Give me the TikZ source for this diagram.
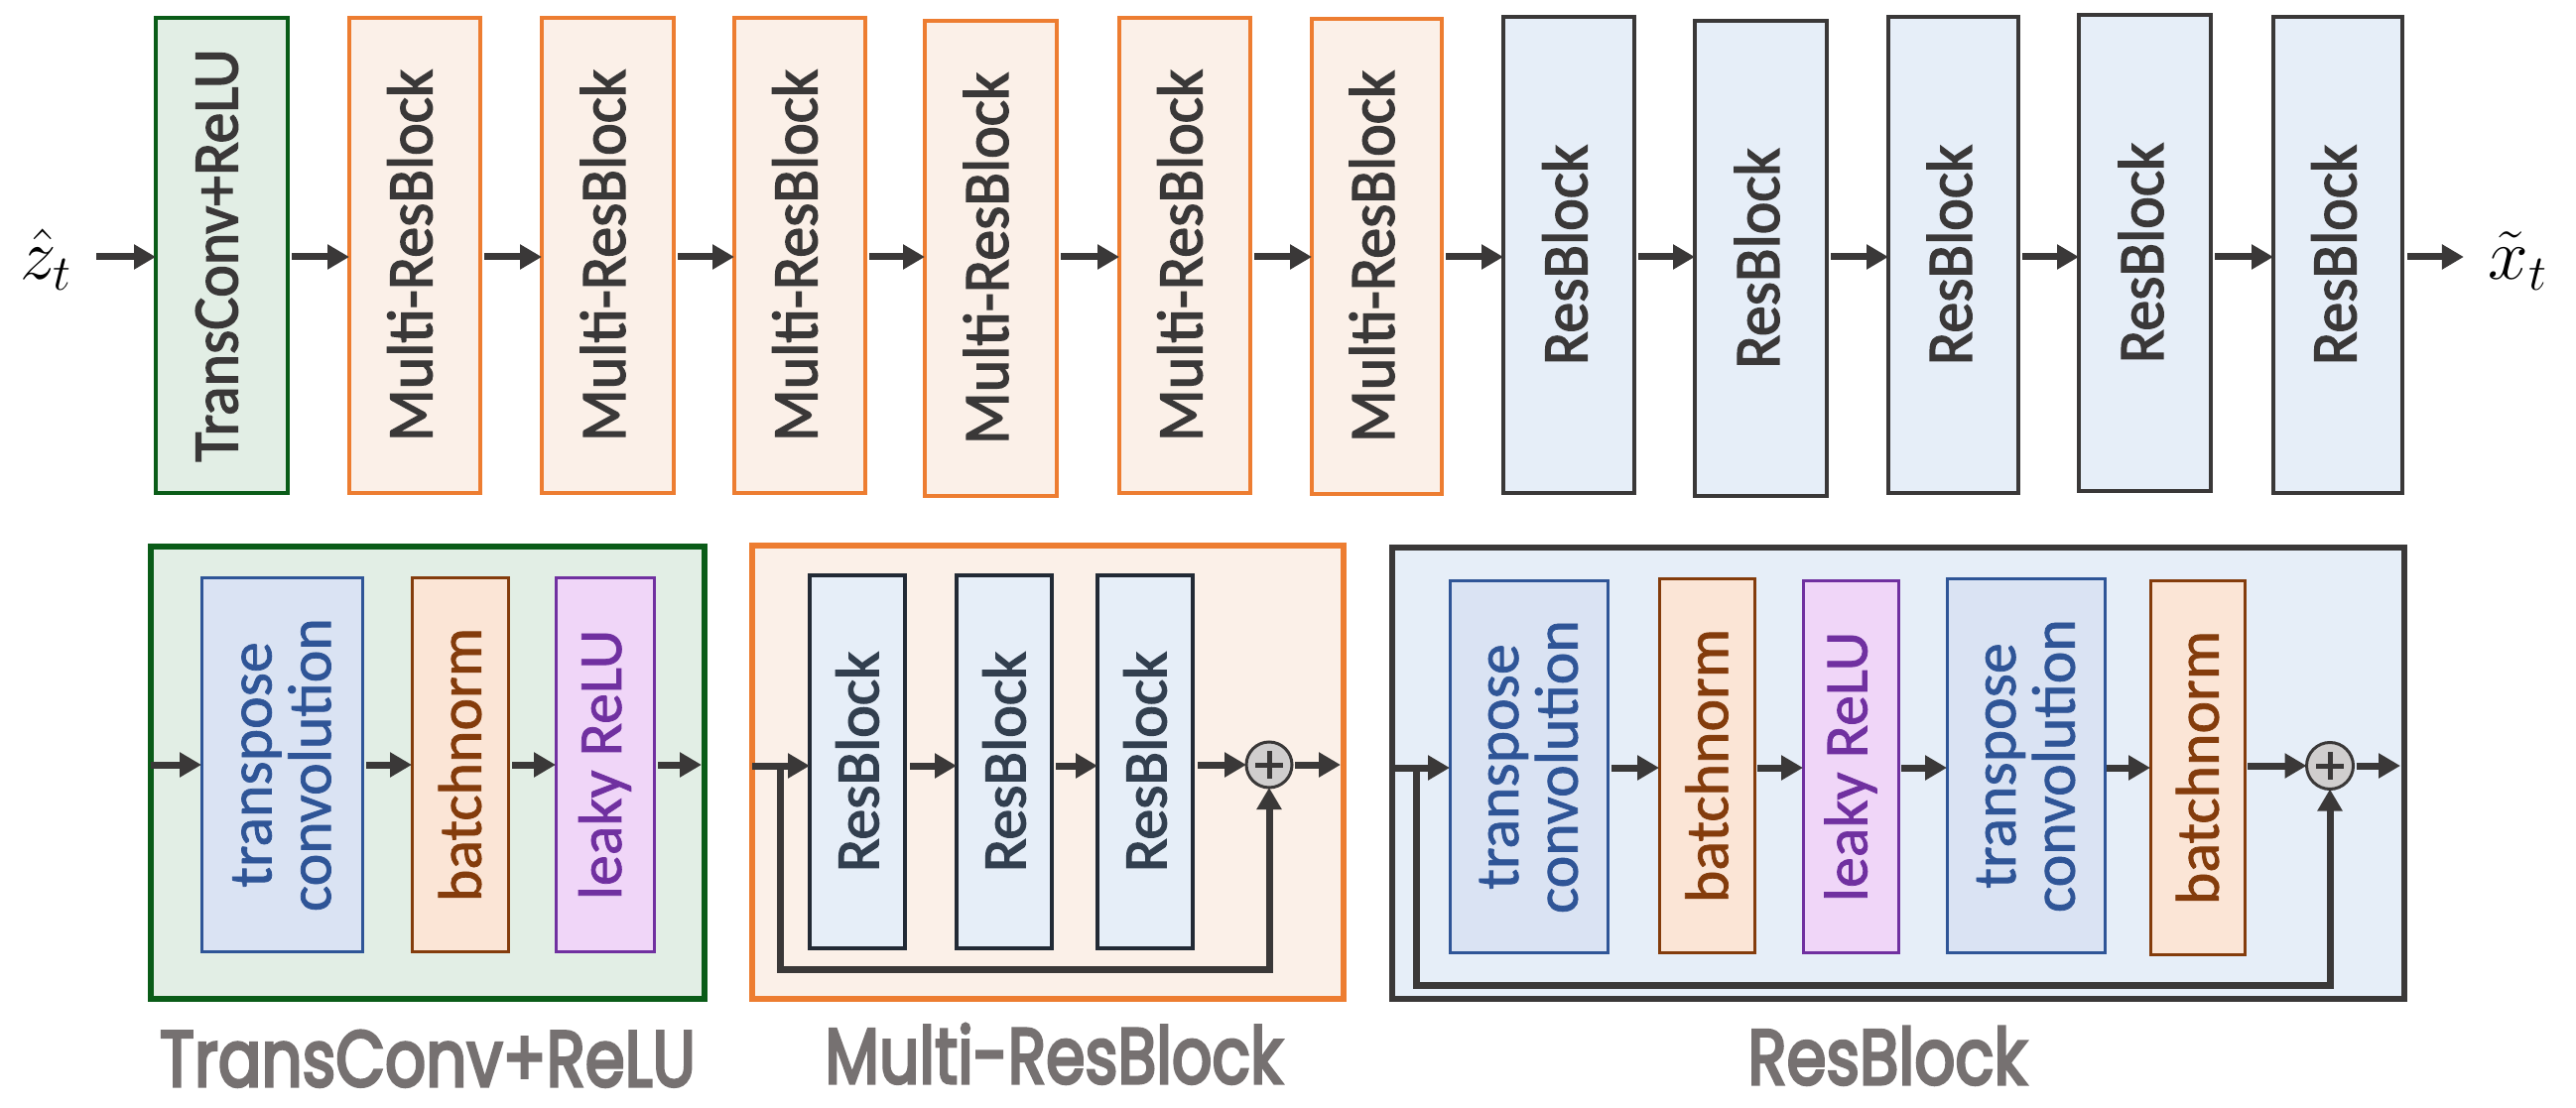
\documentclass[tikz,border=0pt]{standalone}
\usepackage{fontspec}
\setmainfont{Carlito}
\newfontfamily\boxfont{Carlito}[FakeBold=2.2]
\newfontfamily\layerfont{Carlito}[FakeBold=1.2]
\newfontfamily\capfont{Poppins}[FakeBold=4]
\usetikzlibrary{arrows.meta,calc,fit}

\definecolor{gStroke}{HTML}{0A5C18}
\definecolor{gFill}{HTML}{E2EEE5}
\definecolor{oStroke}{HTML}{ED7D31}
\definecolor{oFill}{HTML}{FBF0E8}
\definecolor{dStroke}{HTML}{3A3838}
\definecolor{bFill}{HTML}{E6EEF8}
\definecolor{tcStroke}{HTML}{2F5597}
\definecolor{tcFill}{HTML}{DAE3F3}
\definecolor{bnStroke}{HTML}{843C0C}
\definecolor{bnFill}{HTML}{FBE5D6}
\definecolor{lrStroke}{HTML}{7030A0}
\definecolor{lrFill}{HTML}{F0D6F8}
\definecolor{pGray}{HTML}{D0CECE}
\definecolor{capGray}{HTML}{767171}
\definecolor{rbText}{HTML}{323F4F}
\definecolor{rbEdge}{HTML}{222A35}

\begin{document}
\begin{tikzpicture}[x=0.1mm,y=-0.1mm,
  every node/.style={inner sep=0pt, outer sep=0pt},
  flow/.style={draw=dStroke, line width=0.7mm, -{Triangle[length=2.2mm,width=2.4mm]}},
  tgreen/.style={draw=gStroke, fill=gFill, line width=0.4mm},
  torange/.style={draw=oStroke, fill=oFill, line width=0.4mm},
  tres/.style={draw=dStroke, fill=bFill, line width=0.45mm},
  vlab/.style={rotate=90, font=\boxfont\fontsize{17.6}{20}\selectfont, text=dStroke},
  ilab/.style={rotate=90, align=center, font=\layerfont\fontsize{17.6}{17}\selectfont},
  gouter/.style={draw=gStroke, fill=gFill, line width=0.55mm},
  oouter/.style={draw=oStroke, fill=oFill, line width=0.55mm},
  douter/.style={draw=dStroke, fill=bFill, line width=0.55mm},
  tconv/.style={draw=tcStroke, fill=tcFill, line width=0.3mm},
  bnorm/.style={draw=bnStroke, fill=bnFill, line width=0.3mm},
  lrelu/.style={draw=lrStroke, fill=lrFill, line width=0.3mm},
  mres/.style={draw=rbEdge, fill=bFill, line width=0.38mm},
  adder/.style={circle, draw=dStroke, fill=pGray, line width=0.3mm, minimum size=4.5mm},
  plusbar/.style={line width=0.5mm, draw=dStroke},
  caplab/.style={font=\capfont, text=capGray, anchor=base},
  mathlab/.style={font=\fontsize{22}{24}\selectfont, anchor=base}
]
\useasboundingbox (0,0) rectangle (2596,1117);

% ---------------- decoder pipeline ----------------
\coordinate (ytop) at (0,259);
\node[mathlab] (zin) at (47,282) {$\hat{z}_t$};
\node[mathlab] (xout) at (2538,282) {$\tilde{x}_t$};

\node[tgreen, fit={(157,18)(290,497)}] (tc) {};
\node[vlab] (tc-l) at ($(tc.center)+(-5,0)$) {\scalebox{1}[1.05]{TransConv+ReLU}};

\foreach \n/\a/\b/\c/\d in {m1/352/18/484/497, m2/546/18/679/497, m3/740/18/872/497,
                            m4/932/21/1065/500, m5/1128/18/1260/497, m6/1322/19/1453/498}{
  \node[torange, fit={(\a,\b)(\c,\d)}] (\n) {};
  \node[vlab] (\n-l) at ($(\n.center)+(-5,0)$) {\scalebox{1}[1.05]{Multi-ResBlock}};
}
\foreach \n/\a/\b/\c/\d in {r1/1515/17/1647/497, r2/1708/21/1841/500, r3/1903/17/2034/497,
                            r4/2095/15/2228/495, r5/2291/17/2421/497}{
  \node[tres, fit={(\a,\b)(\c,\d)}] (\n) {};
  \node[vlab] (\n-l) at ($(\n.center)+(-4,0)$) {\scalebox{1}[1.05]{ResBlock}};
}

\draw[flow] ($(zin.east |- ytop)+(24,0)$) -- (tc.west |- ytop);
\foreach \p/\q in {tc/m1, m1/m2, m2/m3, m3/m4, m4/m5, m5/m6, m6/r1, r1/r2, r2/r3, r3/r4, r4/r5}{
  \draw[flow] ($(\p.east |- ytop)+(4,0)$) -- (\q.west |- ytop);
}
\draw[flow] ($(r5.east |- ytop)+(5,0)$) -- ($(xout.west |- ytop)+(-25,0)$);

% ---------------- TransConv+ReLU detail ----------------
\coordinate (yg) at (0,771);
\node[gouter, fit={(152,551)(710,1007)}] (go) {};
\node[tconv, fit={(203,583)(365,959)}] (g1) {};
\node[ilab, text=tcStroke] (g1-l) at (g1.center) {transpose\\convolution};
\node[bnorm, fit={(415,583)(512,959)}] (g2) {};
\node[ilab, text=bnStroke] (g2-l) at (g2.center) {batchnorm};
\node[lrelu, fit={(560,583)(659,959)}] (g3) {};
\node[ilab, text=lrStroke] (g3-l) at (g3.center) {leaky ReLU};

\draw[flow] (go.west |- yg) -- (g1.west |- yg);
\draw[flow] ($(g1.east |- yg)+(4,0)$) -- (g2.west |- yg);
\draw[flow] ($(g2.east |- yg)+(4,0)$) -- (g3.west |- yg);
\draw[flow] ($(g3.east |- yg)+(4,0)$) -- ($(go.east |- yg)+(-3,0)$);

\node[caplab] (cap-g) at (431,1095) {\resizebox{54mm}{5.6mm}{TransConv+ReLU}};

% ---------------- Multi-ResBlock detail ----------------
\coordinate (ym) at (0,772);
\coordinate (mlow) at (0,977);
\node[oouter, fit={(758,550)(1354,1007)}] (mo) {};
\node[mres, fit={(816,580)(912,956)}] (mr1) {};
\node[mres, fit={(964,580)(1060,956)}] (mr2) {};
\node[mres, fit={(1106,580)(1202,956)}] (mr3) {};
\foreach \n in {mr1,mr2,mr3}{
  \node[vlab, text=rbText] (\n-l) at (\n.center) {ResBlock};
}
\node[adder, minimum size=4.6mm] (mp) at (1279,771) {};
\draw[plusbar] ($(mp.center)+(-14,0)$) -- ($(mp.center)+(14,0)$)
               ($(mp.center)+(0,-14)$) -- ($(mp.center)+(0,14)$);

\coordinate (mb) at ($(mo.west |- ym)+(28,0)$);
\draw[flow] (mo.west |- ym) -- (mr1.west |- ym);
\draw[flow] ($(mr1.east |- ym)+(5,0)$) -- (mr2.west |- ym);
\draw[flow] ($(mr2.east |- ym)+(4,0)$) -- (mr3.west |- ym);
\draw[flow] ($(mr3.east |- mp)+(5,0)$) -- (mp.west);
\draw[flow] ($(mp.east)+(3,0)$) -- ($(mo.east |- mp)+(-3,0)$);
\draw[flow] (mb) -- (mb |- mlow) -| (mp.south);

\node[caplab] (cap-m) at (1062,1092) {\resizebox{46.1mm}{6.0mm}{Multi-ResBlock}};

% ---------------- ResBlock detail ----------------
\coordinate (yr) at (0,774);
\coordinate (rlow) at (0,993);
\node[douter, fit={(1403,552)(2423,1007)}] (ro) {};
\node[tconv, fit={(1461,586)(1620,960)}] (q1) {};
\node[ilab, text=tcStroke] (q1-l) at (q1.center) {transpose\\convolution};
\node[bnorm, fit={(1672,584)(1768,960)}] (q2) {};
\node[ilab, text=bnStroke] (q2-l) at (q2.center) {batchnorm};
\node[lrelu, fit={(1817,586)(1913,960)}] (q3) {};
\node[ilab, text=lrStroke] (q3-l) at (q3.center) {leaky ReLU};
\node[tconv, fit={(1962,584)(2121,960)}] (q4) {};
\node[ilab, text=tcStroke] (q4-l) at (q4.center) {transpose\\convolution};
\node[bnorm, fit={(2167,586)(2262,962)}] (q5) {};
\node[ilab, text=bnStroke] (q5-l) at (q5.center) {batchnorm};
\node[adder, minimum size=4.7mm] (rp) at (2348,772) {};
\draw[plusbar] ($(rp.center)+(-14,0)$) -- ($(rp.center)+(14,0)$)
               ($(rp.center)+(0,-14)$) -- ($(rp.center)+(0,14)$);

\coordinate (rb) at ($(ro.west |- yr)+(24,0)$);
\draw[flow] (ro.west |- yr) -- (q1.west |- yr);
\draw[flow] ($(q1.east |- yr)+(4,0)$) -- (q2.west |- yr);
\draw[flow] ($(q2.east |- yr)+(3,0)$) -- (q3.west |- yr);
\draw[flow] ($(q3.east |- yr)+(3,0)$) -- (q4.west |- yr);
\draw[flow] ($(q4.east |- yr)+(2,0)$) -- (q5.west |- yr);
\draw[flow] ($(q5.east |- rp)+(3,0)$) -- (rp.west);
\draw[flow] ($(rp.east)+(3,0)$) -- ($(ro.east |- rp)+(-4,0)$);
\draw[flow] (rb) -- (rb |- rlow) -| (rp.south);

\node[caplab] (cap-r) at (1902,1093) {\resizebox{28.1mm}{5.8mm}{ResBlock}};
\end{tikzpicture}
\end{document}
